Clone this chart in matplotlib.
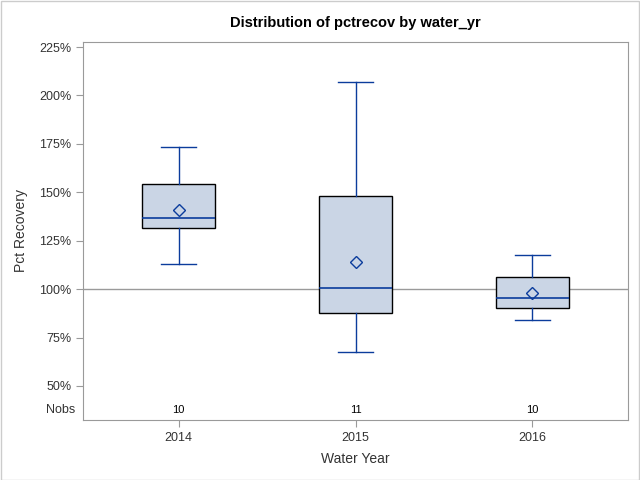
import matplotlib.pyplot as plt
from matplotlib.patches import Rectangle

plt.rcParams['font.family'] = ['Liberation Sans', 'DejaVu Sans']

# data (percent recovery)
years = ['2014', '2015', '2016']
nobs = [10, 11, 10]
whislo = [112.8, 67.3, 83.8]
q1 = [131.4, 87.4, 90.0]
med = [136.5, 100.4, 95.2]
q3 = [154.2, 147.9, 106.0]
whishi = [173.3, 206.8, 117.4]
means = [140.8, 113.8, 97.8]
yticks = [50, 75, 100, 125, 150, 175, 200, 225]

blue = '#0B3C9C'
fill = '#CAD5E5'
grey = '#9A9A9A'

stats = []
for i in range(len(years)):
    stats.append({'whislo': whislo[i], 'q1': q1[i], 'med': med[i],
                  'q3': q3[i], 'whishi': whishi[i], 'mean': means[i],
                  'fliers': [], 'label': years[i]})

fig = plt.figure(figsize=(6.4, 4.8), dpi=100)
ax = fig.add_axes([0.1297, 0.125, 0.8516, 0.7875])

ax.axhline(100, color=grey, lw=1, zorder=1)

ax.bxp(stats, positions=range(len(years)), widths=0.41, showmeans=True,
       patch_artist=True,
       boxprops=dict(facecolor=fill, edgecolor='black', lw=1),
       medianprops=dict(color=blue, lw=1.2),
       whiskerprops=dict(color=blue, lw=1),
       capprops=dict(color=blue, lw=1),
       capwidths=0.2,
       meanprops=dict(marker='D', markerfacecolor='none',
                      markeredgecolor=blue, markersize=6, markeredgewidth=1),
       zorder=2)

ax.set_xlim(-0.54, 2.54)
ax.set_ylim(32.4, 227.6)
ax.set_yticks(yticks)
ax.set_yticklabels([f'{v}%' for v in yticks])
ax.set_xticks(range(len(years)))
ax.set_xticklabels(years)

for s in ax.spines.values():
    s.set_color(grey)
ax.tick_params(colors=grey, labelcolor='#333333', labelsize=9, length=5)

# Nobs inset row
ny = 0.027
for i, n in enumerate(nobs):
    ax.text(i, ny, str(n), transform=ax.get_xaxis_transform(),
            ha='center', va='center', fontsize=8, color='black')
ax.text(-0.015, ny, 'Nobs', transform=ax.transAxes, ha='right', va='center',
        fontsize=9, color='#333333')

ax.set_title('Distribution of pctrecov by water_yr', fontsize=10.5,
             fontweight='bold', pad=11)
ax.set_xlabel('Water Year', fontsize=10, color='#333333', labelpad=6)
ax.set_ylabel('Pct Recovery', fontsize=10, color='#333333', labelpad=8)

fig.patches.append(Rectangle((0.001, 0.001), 0.997, 0.997, transform=fig.transFigure,
                             fill=False, edgecolor='#CCCCCC', lw=1))

fig.savefig('out.png', dpi=100)
